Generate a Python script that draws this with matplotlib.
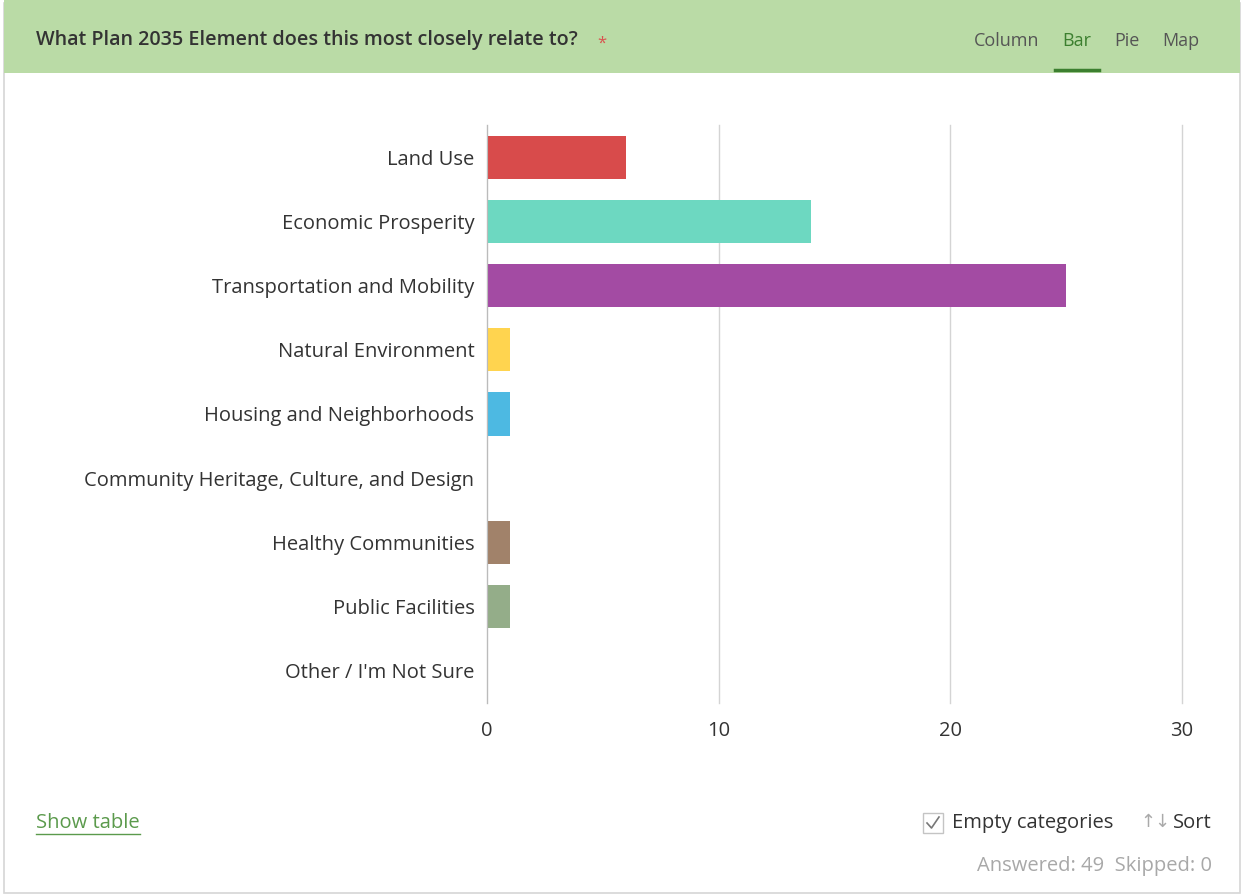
import numpy as np
import matplotlib.pyplot as plt
from matplotlib.patches import Rectangle
from matplotlib.lines import Line2D

# Survey answers
categories = ['Land Use', 'Economic Prosperity', 'Transportation and Mobility',
              'Natural Environment', 'Housing and Neighborhoods',
              'Community Heritage, Culture, and Design', 'Healthy Communities',
              'Public Facilities', "Other / I'm Not Sure"]
counts = [6, 14, 25, 1, 1, 0, 1, 1, 0]
colors = ['#d84b4b', '#6dd8c1', '#a34ba3', '#ffd44f', '#4db9e2',
          '#c8c8c8', '#a1826a', '#94ad89', '#c8c8c8']
xticks = [0, 10, 20, 30]

W, H = 1242, 896
plt.rcParams['font.family'] = ['Open Sans', 'DejaVu Sans']
FS = 14.5


def px(x, y):
    # pixel coords (top-left origin) -> figure fraction
    return x / W, 1 - y / H


fig = plt.figure(figsize=(W / 100, H / 100), dpi=100)
fig.patch.set_facecolor('white')

# panel border and header band
fig.patches.append(Rectangle(px(4, 893), 1236 / W, 890 / H, transform=fig.transFigure,
                             facecolor='white', edgecolor='#d6d6d6', lw=1.2, zorder=-2))
fig.patches.append(Rectangle(px(4, 73), 1236 / W, 73 / H, transform=fig.transFigure,
                             facecolor='#badba6', edgecolor='none', zorder=-1))

fig.text(*px(36, 40), 'What Plan 2035 Element does this most closely relate to?',
         fontsize=14.2, fontweight='semibold', color='#333333', va='center', ha='left')
fig.text(*px(602, 44), '*', fontsize=12, color='#d9534f', va='center', ha='center')

tabs = [('Column', 1007), ('Bar', 1077), ('Pie', 1127), ('Map', 1181)]
for name, xc in tabs:
    c = '#3c7f2f' if name == 'Bar' else '#555555'
    fig.text(*px(xc, 41), name, fontsize=13, color=c, va='center', ha='center')
fig.lines.append(Line2D([1055 / W, 1099 / W], [1 - 70.5 / H, 1 - 70.5 / H],
                        transform=fig.transFigure, color='#3c7f2f', lw=2.5))

# chart
ax = fig.add_axes([487 / W, 1 - 703 / H, (1182 - 487) / W, (703 - 125) / H])
ax.set_zorder(5)
ax.patch.set_alpha(0)
y = np.arange(len(categories))
ax.barh(y, counts, height=0.67, color=colors, zorder=2)
ax.set_xlim(0, 30)
ax.set_ylim(len(categories) - 0.5, -0.5)
ax.set_yticks(y)
ax.set_yticklabels(categories, fontsize=FS, color='#333333')
ax.set_xticks(xticks)
ax.set_xticklabels([str(t) for t in xticks], fontsize=FS, color='#333333')
ax.tick_params(axis='y', length=0, pad=9)
ax.tick_params(axis='x', length=0, pad=13)
ax.grid(axis='x', color='#d4d4d4', lw=1, zorder=0)
for gl in ax.get_xgridlines():
    gl.set_clip_on(False)
for s in ['top', 'right', 'bottom']:
    ax.spines[s].set_visible(False)
ax.spines['left'].set_color('#bbbbbb')
ax.spines['left'].set_zorder(3)

# footer
show = fig.text(*px(36, 823), 'Show table', fontsize=FS, color='#5b9a4c', va='center', ha='left')
fig.patches.append(Rectangle(px(923, 833), 20 / W, 20 / H, transform=fig.transFigure,
                             facecolor='white', edgecolor='#c4c4c4', lw=1))
fig.lines.append(Line2D([927 / W, 931.5 / W, 939 / W], [1 - 823 / H, 1 - 828 / H, 1 - 817 / H],
                        transform=fig.transFigure, color='#777777', lw=1.2))
fig.text(*px(952, 823), 'Empty categories', fontsize=FS, color='#333333', va='center', ha='left')
fig.text(*px(1155, 822), '\u2191\u2193', fontsize=13, color='#aaaaaa', va='center', ha='center',
         family='DejaVu Sans')
fig.text(*px(1212, 823), 'Sort', fontsize=FS, color='#333333', va='center', ha='right')
fig.text(*px(1212, 866), 'Answered: 49  Skipped: 0', fontsize=14.5, color='#a8a8a8',
         va='center', ha='right')

# underline "Show table" to its drawn width
fig.canvas.draw()
bb = show.get_window_extent().transformed(fig.transFigure.inverted())
fig.lines.append(Line2D([bb.x0, bb.x1], [1 - 834 / H, 1 - 834 / H],
                        transform=fig.transFigure, color='#5b9a4c', lw=1))

fig.savefig('out.png', dpi=100)
